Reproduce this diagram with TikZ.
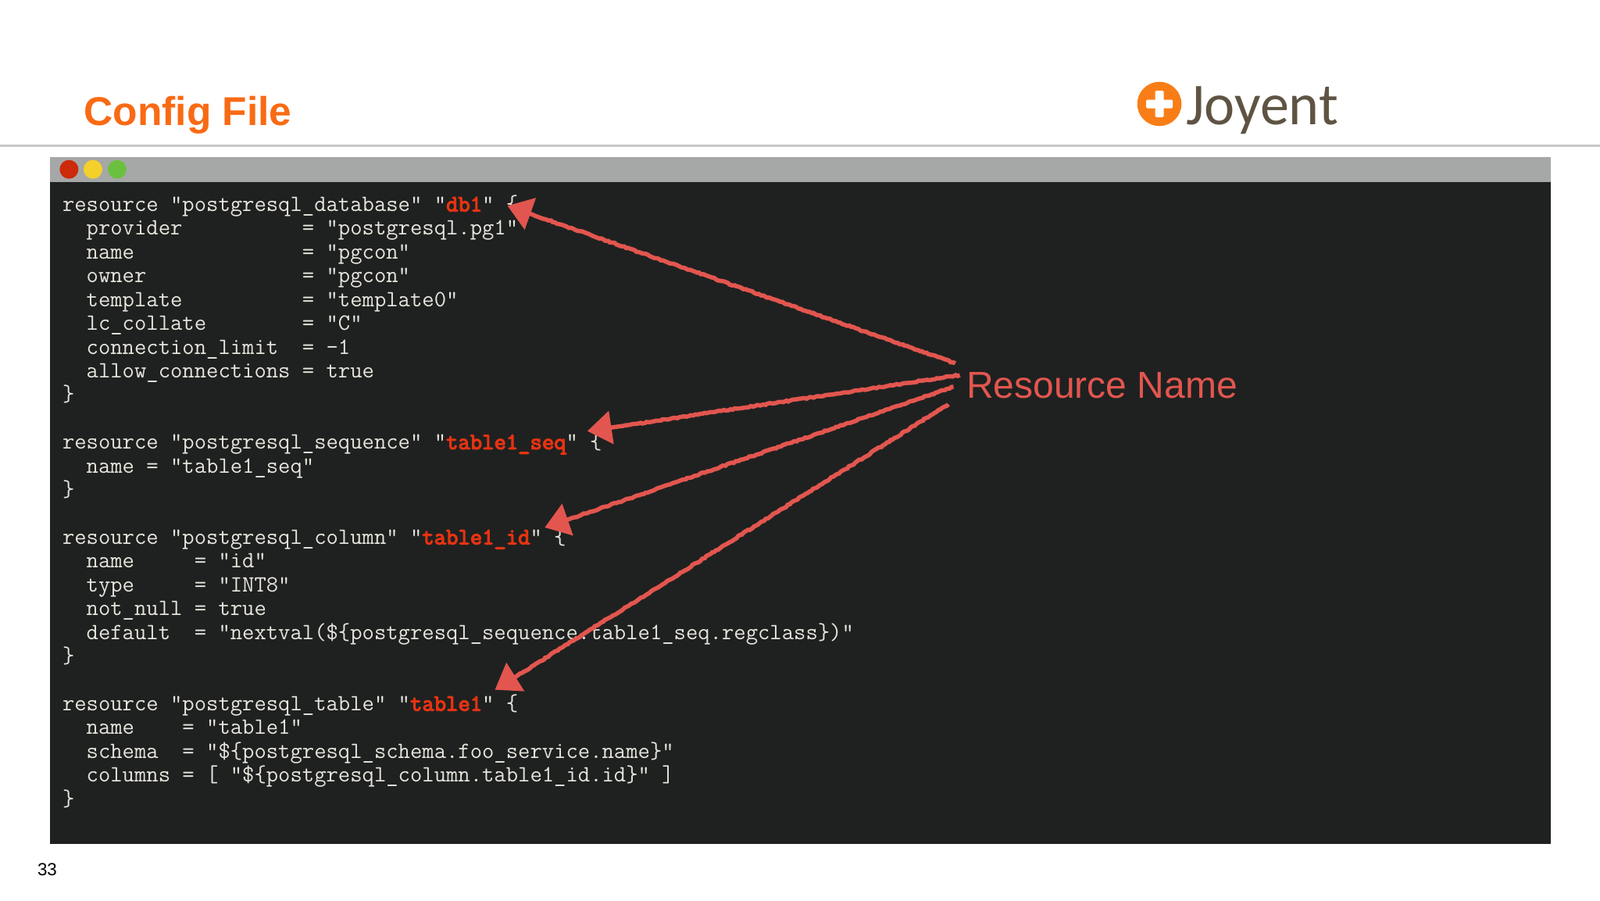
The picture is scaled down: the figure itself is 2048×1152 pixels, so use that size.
\documentclass[tikz,border=0pt]{standalone}
\usepackage{fontspec}
\usetikzlibrary{arrows.meta,decorations.pathmorphing}
\setmainfont{Liberation Sans}
\newfontfamily\logofont{Carlito}[FakeStretch=0.975]
\newfontfamily\codebold{Latin Modern Mono}[FakeBold=4]
\definecolor{slideorange}{HTML}{F96A14}
\definecolor{logoorange}{HTML}{F97D17}
\definecolor{logobrown}{HTML}{5F5443}
\definecolor{rulegray}{HTML}{C8C8C8}
\definecolor{bargray}{HTML}{A6A8A7}
\definecolor{termdark}{HTML}{1F2120}
\definecolor{codegray}{HTML}{E6E6DE}
\definecolor{codered}{HTML}{E63312}
\definecolor{markred}{HTML}{E2564F}
\newcommand{\rn}[1]{{\codebold\textcolor{codered}{#1}}}

\begin{document}
\begin{tikzpicture}
	[
	 x = 1pt,
	 y = -1pt,
	 every node/.style = {inner sep = 0pt, outer sep = 0pt},
	 panel/.style = {shape=rectangle, anchor=north west},
	 dot/.style = {shape=circle, minimum size = 24pt},
	 codeline/.style = {anchor=base west, text=codegray,
	                    font=\fontsize{29.8}{30}\ttfamily},
	 resarrow/.style = {draw=markred, line width = 5.5pt,
	                    -{Triangle[length=31pt,width=42pt]},
	                    decorate,
	                    decoration = {random steps, segment length=3pt,
	                                  amplitude=.8pt, post length=34pt}}
	]
	\useasboundingbox (0,0) rectangle (2048,1152);

	% header
	\fill[rulegray] (0,184.5) rectangle (2048,187.5);
	\node[anchor=base west, text=slideorange,
	      font=\fontsize{51.5}{53}\bfseries] (title) at (107.5,160) {Config File};
	\node[shape=circle, fill=logoorange, minimum size=56.6pt] (logodot) at (1484,133) {};
	\fill[white, rounded corners=1.5pt] (1467,127.5) rectangle (1501,138.5);
	\fill[white, rounded corners=1.5pt] (1478.5,116) rectangle (1489.5,150);
	\node[anchor=base west, text=logobrown,
	      font=\fontsize{76}{78}\logofont] (logotext) at (1518,159) {Joyent};

	% terminal window
	\node[panel, fill=termdark, minimum width=1921pt, minimum height=848pt] (body) at (64,232) {};
	\node[panel, fill=bargray, minimum width=1921pt, minimum height=32pt] (bar) at (64,200.5) {};
	\node[dot, fill={rgb,255:red,204;green,42;blue,10}] (dotred) at (88.4,216.7) {};
	\node[dot, fill={rgb,255:red,244;green,208;blue,42}] (dotyellow) at (119,216.7) {};
	\node[dot, fill={rgb,255:red,108;green,192;blue,64}] (dotgreen) at (150,216.7) {};

	\foreach \row/\codetext in {
		0/{resource "postgresql\_database" "\rn{db1}" \{},
		1/{~~provider~~~~~~~~~ = "postgresql.pg1"},
		2/{~~name~~~~~~~~~~~~~ = "pgcon"},
		3/{~~owner~~~~~~~~~~~~ = "pgcon"},
		4/{~~template~~~~~~~~~ = "template0"},
		5/{~~lc\_collate~~~~~~~ = "C"},
		6/{~~connection\_limit~ = -1},
		7/{~~allow\_connections = true},
		8/{\}},
		10/{resource "postgresql\_sequence" "\rn{table1\_seq}" \{},
		11/{~~name = "table1\_seq"},
		12/{\}},
		14/{resource "postgresql\_column" "\rn{table1\_id}" \{},
		15/{~~name~~~~~= "id"},
		16/{~~type~~~~~= "INT8"},
		17/{~~not\_null = true},
		18/{~~default~~= "nextval(\$\{postgresql\_sequence.table1\_seq.regclass\})"},
		19/{\}},
		21/{resource "postgresql\_table" "\rn{table1}" \{},
		22/{~~name~~~~= "table1"},
		23/{~~schema~~= "\$\{postgresql\_schema.foo\_service.name\}"},
		24/{~~columns = [ "\$\{postgresql\_column.table1\_id.id\}" ]},
		25/{\}}}
	{
		\node[codeline] (code\row) at (80,270.5+30.43*\row) {\codetext};
	}

	% callout
	\node[anchor=base west, text=markred, font=\fontsize{48}{50}\selectfont] (resname) at (1237,509) {Resource Name};
	\coordinate (from1) at (1222.8,465);
	\coordinate (from2) at (1228.6,480);
	\coordinate (from3) at (1220.5,495);
	\coordinate (from4) at (1213.8,517.3);
	\coordinate (tip1) at (649.6,263.3);
	\coordinate (tip2) at (751.8,551.7);
	\coordinate (tip3) at (697.3,675);
	\coordinate (tip4) at (633.5,882.7);
	\foreach \arrownum in {1,2,3,4}
		\draw[resarrow] (from\arrownum) -- (tip\arrownum);

	% page number
	\node[anchor=base west, font=\fontsize{22.4}{24}\selectfont] (pagenum) at (48,1120) {33};
\end{tikzpicture}
\end{document}
